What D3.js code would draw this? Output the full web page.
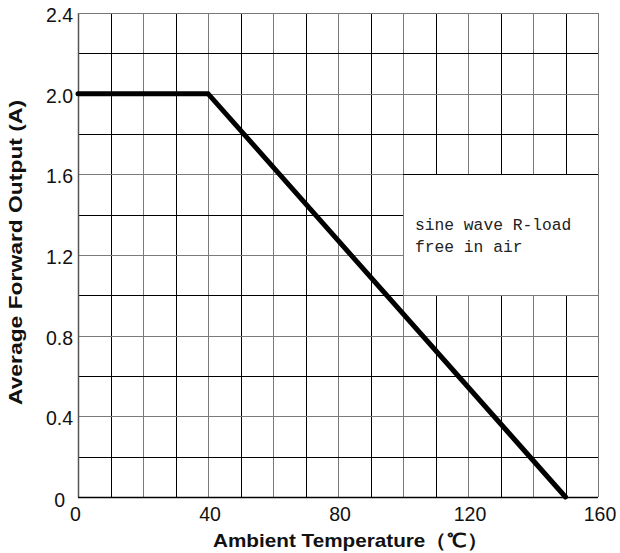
<!DOCTYPE html>
<html><head><meta charset="utf-8">
<script src="https://cdn.jsdelivr.net/npm/d3@7"></script>
<style>body{margin:0;background:#fff}</style>
</head><body>
<svg id="c" width="620" height="553"></svg>
<script>
const xTicks = [0, 40, 80, 120, 160];
const yTicks = [0, 0.4, 0.8, 1.2, 1.6, 2.0, 2.4];
const yTickLabels = ["0", "0.4", "0.8", "1.2", "1.6", "2.0", "2.4"];
const temps = [0, 40, 150];
const current = [2.0, 2.0, 0];
const xGrid = d3.range(0, 161, 10);
const yGrid = d3.range(0, 12.01, 1).map(d => +(d * 0.2).toFixed(1));
const noteLines = ["sine wave R-load", "free in air"];
const noteBox = {x0: 100, x1: 160, y0: 1.0, y1: 1.6};

const svg = d3.select("#c");
const L = 78, R = 598, T = 13, B = 497;
const x = d3.scaleLinear().domain([0, 160]).range([L, R]);
const y = d3.scaleLinear().domain([0, 2.4]).range([B, T]);

const g = svg.append("g");
xGrid.forEach(v => {
  g.append("line").attr("x1", Math.round(x(v)) + 0.5).attr("x2", Math.round(x(v)) + 0.5)
    .attr("y1", T).attr("y2", B)
    .attr("stroke", v % 20 === 0 ? "#7a7a7a" : "#000").attr("stroke-width", 1);
});
yGrid.forEach((v, i) => {
  g.append("line").attr("y1", Math.round(y(v)) + 0.5).attr("y2", Math.round(y(v)) + 0.5)
    .attr("x1", L).attr("x2", R)
    .attr("stroke", i % 2 === 0 ? "#7a7a7a" : "#000").attr("stroke-width", 1);
});
// note box
g.append("rect")
  .attr("x", Math.round(x(noteBox.x0)) + 0.5).attr("y", Math.round(y(noteBox.y1)) + 0.5)
  .attr("width", Math.round(x(noteBox.x1)) - Math.round(x(noteBox.x0)))
  .attr("height", Math.round(y(noteBox.y0)) - Math.round(y(noteBox.y1)))
  .attr("fill", "#fff").attr("stroke", "#7a7a7a").attr("stroke-width", 1);
g.append("line").attr("x1", Math.round(x(noteBox.x0))).attr("x2", R)
  .attr("y1", Math.round(y(noteBox.y1)) + 0.5).attr("y2", Math.round(y(noteBox.y1)) + 0.5)
  .attr("stroke", "#000");
noteLines.forEach((t, i) => {
  svg.append("text").attr("x", x(noteBox.x0) + 12).attr("y", 230 + i * 22)
    .attr("font-family", "'Liberation Mono', 'DejaVu Sans Mono', monospace")
    .attr("font-size", 16.3).attr("fill", "#222")
    .text(t);
});
// frame
svg.append("line").attr("x1", L + 0.5).attr("x2", L + 0.5).attr("y1", T).attr("y2", B).attr("stroke", "#555").attr("stroke-width", 1.5);
svg.append("line").attr("x1", L).attr("x2", R).attr("y1", B + 0.5).attr("y2", B + 0.5).attr("stroke", "#000").attr("stroke-width", 1.5);
svg.append("line").attr("x1", L).attr("x2", R).attr("y1", T + 0.5).attr("y2", T + 0.5).attr("stroke", "#777").attr("stroke-width", 1);
svg.append("line").attr("x1", R + 0.5).attr("x2", R + 0.5).attr("y1", T).attr("y2", B).attr("stroke", "#777").attr("stroke-width", 1);

// data line
const line = d3.line().x((d, i) => x(temps[i])).y(d => y(d));
svg.append("path").datum(current).attr("d", line)
  .attr("fill", "none").attr("stroke", "#000").attr("stroke-width", 5)
  .attr("stroke-linecap", "round").attr("stroke-linejoin", "miter");

// axes labels
const font = "'Liberation Sans', Arial, sans-serif";
yTicks.forEach((v, i) => {
  svg.append("text").attr("x", i === 0 ? 65 : 73).attr("y", y(v) + (i === 0 ? 9.5 : 9))
    .attr("text-anchor", "end").attr("font-family", font).attr("font-size", 19.5).attr("fill", "#111")
    .text(yTickLabels[i]);
});
xTicks.forEach(v => {
  svg.append("text").attr("x", x(v) + (v === 0 ? -2.5 : 2)).attr("y", 521)
    .attr("text-anchor", "middle").attr("font-family", font).attr("font-size", 19.5).attr("fill", "#111")
    .text(v);
});
svg.append("text").attr("x", 213).attr("y", 546.5)
  .attr("font-family", font).attr("font-weight", "bold").attr("font-size", 18.5).attr("fill", "#111")
  .attr("textLength", 275).attr("lengthAdjust", "spacingAndGlyphs")
  .text("Ambient Temperature（℃）");
svg.append("text").attr("transform", "translate(22,405) rotate(-90)")
  .attr("font-family", font).attr("font-weight", "bold").attr("font-size", 18.5).attr("fill", "#111")
  .attr("textLength", 305).attr("lengthAdjust", "spacingAndGlyphs")
  .text("Average Forward Output (A)");
</script>
</body></html>
